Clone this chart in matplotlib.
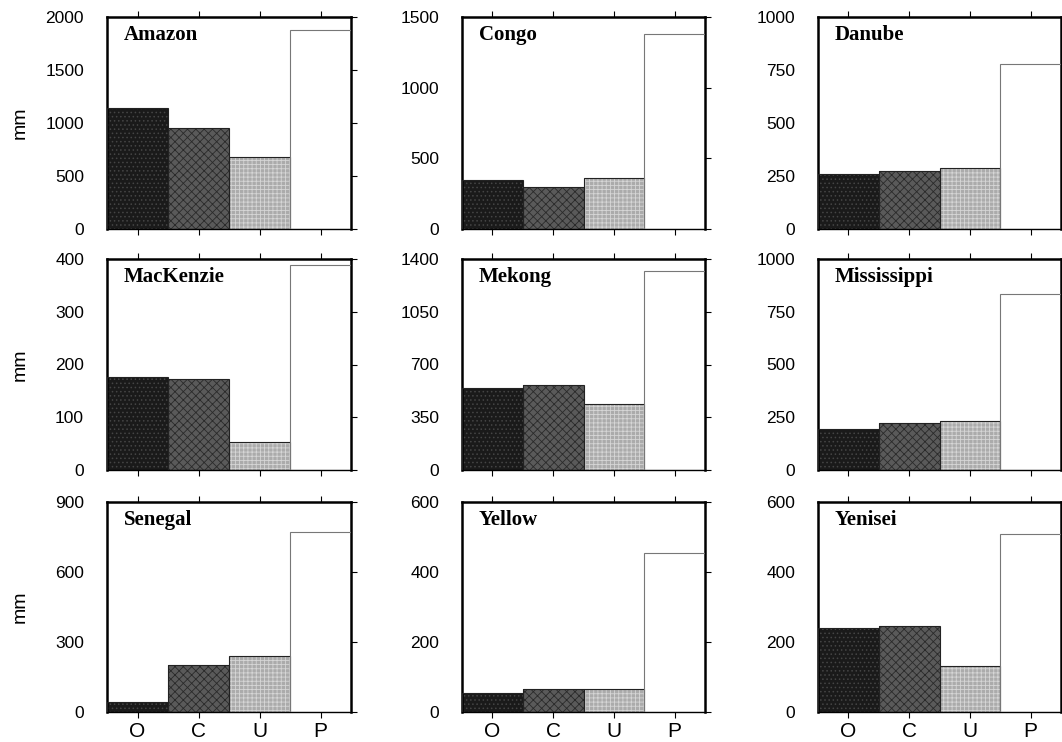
import matplotlib
matplotlib.use("Agg")
import matplotlib.pyplot as plt

rivers = ["Amazon", "Congo", "Danube", "MacKenzie", "Mekong", "Mississippi",
          "Senegal", "Yellow", "Yenisei"]
categories = ["O", "C", "U", "P"]
amazon = [1140, 957, 683, 1874]
congo = [345, 295, 359, 1377]
danube = [260, 273, 290, 779]
mackenzie = [176, 172, 54, 388]
mekong = [547, 567, 440, 1322]
mississippi = [195, 225, 230, 833]
senegal = [45, 202, 239, 772]
yellow = [54, 67, 66, 454]
yenisei = [241, 247, 131, 510]
values = [amazon, congo, danube, mackenzie, mekong, mississippi, senegal, yellow, yenisei]
yticks = [[0, 500, 1000, 1500, 2000], [0, 500, 1000, 1500], [0, 250, 500, 750, 1000],
          [0, 100, 200, 300, 400], [0, 350, 700, 1050, 1400], [0, 250, 500, 750, 1000],
          [0, 300, 600, 900], [0, 200, 400, 600], [0, 200, 400, 600]]

face = ["#1a1a1a", "#5a5a5a", "#ababab", "#ffffff"]
hatchc = ["#454545", "#2a2a2a", "#d6d6d6", "#ffffff"]
hatches = ["....", "xxxx", "++++", None]

plt.rcParams["hatch.linewidth"] = 0.6

W, H = 1062, 742
fig = plt.figure(figsize=(W / 100, H / 100), dpi=100)
lefts = [107, 462, 818]
rights = [351, 705, 1061]
tops = [17, 259, 502]
bottoms = [229, 470, 712]

for i, (name, vals, yt) in enumerate(zip(rivers, values, yticks)):
    r, c = divmod(i, 3)
    ax = fig.add_axes([lefts[c] / W, 1 - bottoms[r] / H,
                       (rights[c] - lefts[c]) / W, (bottoms[r] - tops[r]) / H])
    x = list(range(len(categories)))
    for j in x:
        ax.bar(j, vals[j], width=1.0, color=face[j], edgecolor=hatchc[j],
               hatch=hatches[j], linewidth=0, zorder=2)
        ax.bar(j, vals[j], width=1.0, fill=False,
               edgecolor="#222222" if j < 3 else "#777777", linewidth=0.8, zorder=3)
    ax.set_xlim(-0.5, 3.5)
    ax.set_ylim(yt[0], yt[-1])
    ax.set_yticks(yt)
    ax.set_yticklabels([str(v) for v in yt], fontsize=12.5, family="Liberation Sans")
    ax.set_xticks(x)
    if r == 2:
        ax.set_xticklabels(categories, fontsize=15, family="Liberation Sans")
    else:
        ax.set_xticklabels([])
    ax.tick_params(axis="both", direction="out", length=4.5, width=0.8,
                   top=True, right=True, left=False)
    ax.tick_params(axis="y", pad=12)
    ax.tick_params(axis="x", pad=3)
    for s in ["left", "top", "right"]:
        ax.spines[s].set_linewidth(1.8)
    ax.spines["bottom"].set_linewidth(1.0)
    ax.text(0.07, 0.915, name, transform=ax.transAxes, fontsize=15,
            fontweight="bold", family="Liberation Serif", va="center", ha="left",
            zorder=5)
    if c == 0:
        ax.set_ylabel("mm", fontsize=14, family="Liberation Sans")
        ax.yaxis.set_label_coords(-0.32, 0.5)

fig.savefig("out.png", dpi=100)
